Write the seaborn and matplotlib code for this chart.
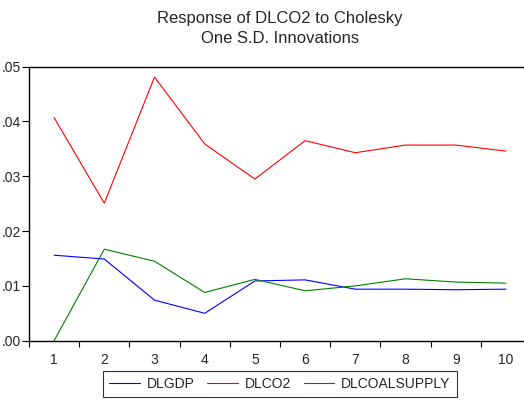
import pandas as pd
import matplotlib.pyplot as plt
import seaborn as sns

# Impulse response values
periods = [1, 2, 3, 4, 5, 6, 7, 8, 9, 10]
dlgdp = [0.0156, 0.0149, 0.0074, 0.0050, 0.0109, 0.0111, 0.0094, 0.0094, 0.0093, 0.0094]
dlco2 = [0.0407, 0.0251, 0.0481, 0.0359, 0.0295, 0.0365, 0.0343, 0.0357, 0.0357, 0.0346]
dlcoalsupply = [0.0000, 0.0167, 0.0145, 0.0088, 0.0112, 0.0091, 0.0100, 0.0113, 0.0107, 0.0105]
series_names = ["DLGDP", "DLCO2", "DLCOALSUPPLY"]
y_ticks = [0.00, 0.01, 0.02, 0.03, 0.04, 0.05]
y_labels = [".00", ".01", ".02", ".03", ".04", ".05"]

df = pd.DataFrame({
    "period": periods * 3,
    "value": dlgdp + dlco2 + dlcoalsupply,
    "series": [n for n in series_names for _ in periods],
})

sns.set_style("white")
plt.rcParams["font.family"] = ["Liberation Sans", "DejaVu Sans"]

fig = plt.figure(figsize=(5.24, 4.0), dpi=100)
ax = fig.add_axes([29 / 524, 1 - 340.7 / 400, 1 - 29 / 524, (340.7 - 66.7) / 400])

sns.lineplot(data=df, x="period", y="value", hue="series",
             palette=["#0000ff", "#ff0000", "#008000"], linewidth=0.8, ax=ax)

ax.set_xlim(0.5, 10.36)
ax.set_ylim(0, 0.05)
ax.set_xlabel("")
ax.set_ylabel("")

ax.set_xticks(periods)
ax.set_xticklabels([str(p) for p in periods], fontsize=10)
ax.set_xticks([p - 0.5 for p in periods], minor=True)
ax.tick_params(axis="x", which="major", bottom=True, length=0, pad=9)
ax.tick_params(axis="x", which="minor", bottom=True, length=4, width=0.8,
               direction="out", color="black")
ax.set_yticks(y_ticks)
ax.set_yticklabels(y_labels, fontsize=10)
ax.tick_params(axis="y", left=True, length=5, width=0.8, direction="out",
               color="black", pad=1)

for side in ["left", "bottom", "top"]:
    ax.spines[side].set_color("black")
    ax.spines[side].set_linewidth(1.0)
ax.spines["right"].set_visible(False)

fig.text(280 / 524, 1 - 19 / 400, "Response of DLCO2 to Cholesky", ha="center", va="center", fontsize=12)
fig.text(280 / 524, 1 - 38.5 / 400, "One S.D. Innovations", ha="center", va="center", fontsize=12)

leg = ax.legend(loc="center", bbox_to_anchor=(280 / 524, 1 - 384 / 400),
                bbox_transform=fig.transFigure, ncol=3, fontsize=10,
                frameon=True, fancybox=False, borderpad=0.45, handlelength=2.2,
                columnspacing=0.9, handletextpad=0.5)
leg.get_frame().set_edgecolor("black")
leg.get_frame().set_linewidth(0.8)

fig.savefig("out.png", dpi=100)
